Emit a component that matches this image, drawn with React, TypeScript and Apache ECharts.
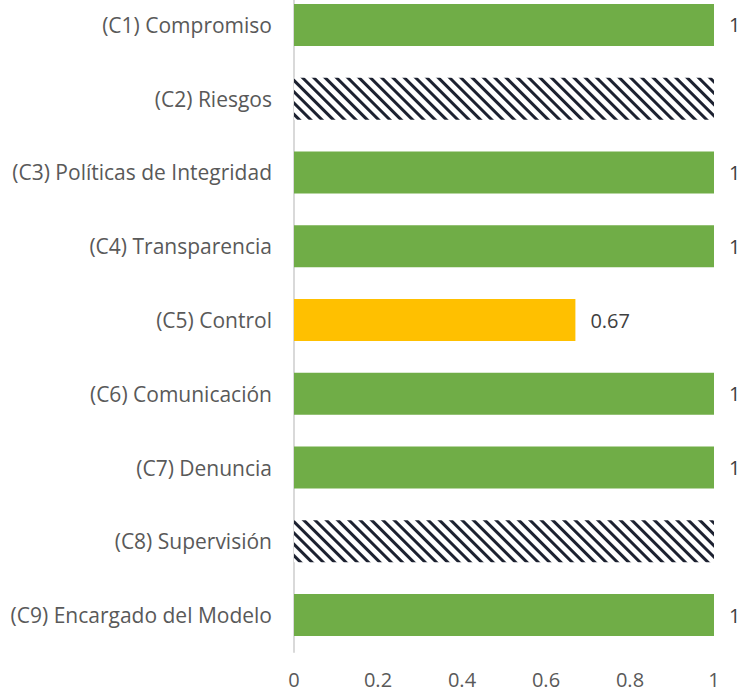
import React, { useEffect, useRef } from "react";
import * as echarts from "echarts";

const categories = [
  "(C1) Compromiso",
  "(C2) Riesgos",
  "(C3) Políticas de Integridad",
  "(C4) Transparencia",
  "(C5) Control",
  "(C6) Comunicación",
  "(C7) Denuncia",
  "(C8) Supervisión",
  "(C9) Encargado del Modelo",
];
const values = [1, 1, 1, 1, 0.67, 1, 1, 1, 1];
const kinds = ["ok", "na", "ok", "ok", "partial", "ok", "ok", "na", "ok"];
const xTicks = [0, 0.2, 0.4, 0.6, 0.8, 1];

const FONT = "'Open Sans', sans-serif";

export default function App() {
  const ref = useRef<HTMLDivElement>(null);
  useEffect(() => {
    if (!ref.current) return;
    const chart = echarts.init(ref.current, null, { renderer: "svg" });
    const data = values.map((v, i) => {
      const k = kinds[i];
      if (k === "na") {
        return {
          value: v,
          itemStyle: {
            color: "#ffffff",
            decal: {
              symbol: "rect",
              symbolSize: 1,
              dashArrayX: [1, 0],
              dashArrayY: [2.6, 5],
              rotation: Math.PI / 4,
              color: "#1c2130",
              backgroundColor: "#ffffff",
            },
          },
          label: { show: false },
        };
      }
      return {
        value: v,
        itemStyle: { color: k === "partial" ? "#FFC000" : "#70AD47" },
      };
    });
    chart.setOption({
      animation: false,
      grid: { left: 294, right: 29, top: 0, bottom: 40, containLabel: false },
      xAxis: {
        type: "value",
        min: 0,
        max: 1,
        interval: 0.2,
        splitLine: { show: false },
        axisLine: { show: false },
        axisTick: { show: false },
        axisLabel: {
          color: "#595959",
          fontSize: 20,
          lineHeight: 20,
          fontFamily: FONT,
          margin: 17,
          formatter: (v: number) => {
            const t = xTicks.find((x) => Math.abs(x - v) < 1e-9);
            return t === undefined ? "" : String(t);
          },
        },
      },
      yAxis: {
        type: "category",
        data: categories,
        inverse: true,
        axisTick: { show: false },
        axisLine: { show: true, lineStyle: { color: "#d9d9d9", width: 2 } },
        axisLabel: {
          color: "#595959",
          fontSize: 21,
          fontFamily: FONT,
          margin: 22,
        },
      },
      series: [
        {
          type: "bar",
          data,
          barWidth: 42,
          label: {
            show: true,
            position: "right",
            distance: 15,
            color: "#404040",
            fontSize: 20,
            fontFamily: FONT,
            formatter: (p: any) => String(p.value),
          },
        },
      ],
    });
    return () => chart.dispose();
  }, []);
  return (
    <div
      ref={ref}
      style={{ position: "absolute", left: 0, top: -12, width: 743, height: 704, background: "#fff" }}
    />
  );
}
